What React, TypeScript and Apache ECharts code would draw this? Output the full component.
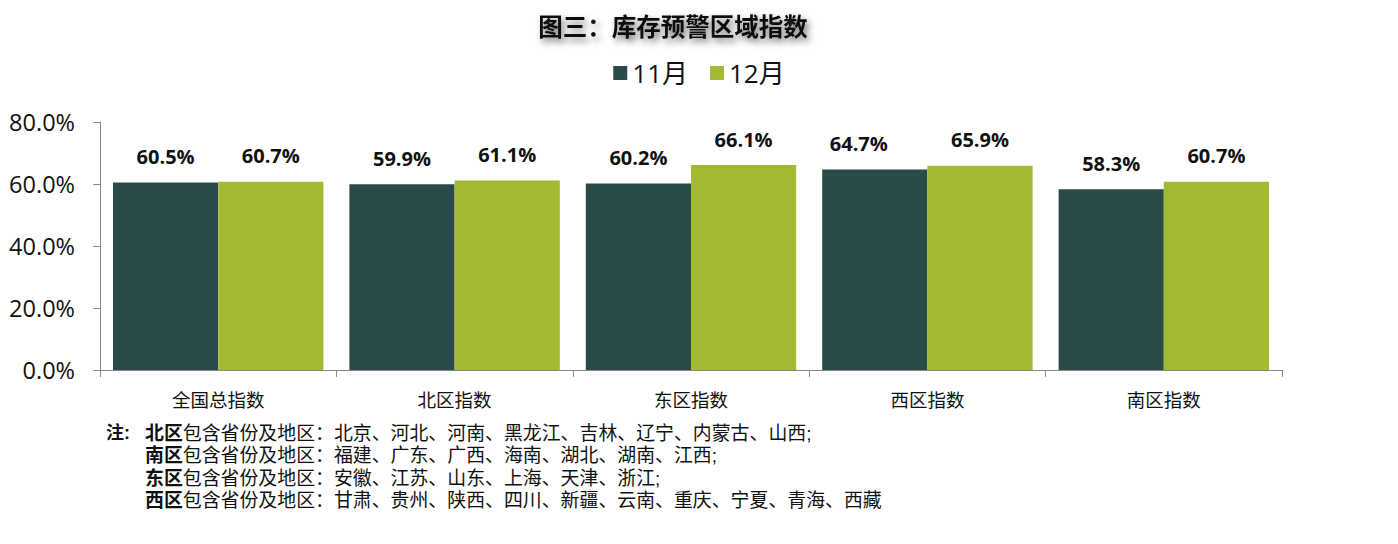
import React, { useEffect, useRef } from "react";
import * as echarts from "echarts";

const categories = ["全国总指数", "北区指数", "东区指数", "西区指数", "南区指数"];
const nov = [60.5, 59.9, 60.2, 64.7, 58.3];
const dec = [60.7, 61.1, 66.1, 65.9, 60.7];
const seriesNames = ["11月", "12月"];
const yTicks = { min: 0, max: 80, interval: 20 };
const noteRegions = ["北区", "南区", "东区", "西区"];
const noteLists = [
  "北京、河北、河南、黑龙江、吉林、辽宁、内蒙古、山西;",
  "福建、广东、广西、海南、湖北、湖南、江西;",
  "安徽、江苏、山东、上海、天津、浙江;",
  "甘肃、贵州、陕西、四川、新疆、云南、重庆、宁夏、青海、西藏",
];

const FONT = "'Open Sans', 'Noto Sans CJK SC', sans-serif";
const CJK = "'Noto Sans CJK SC', sans-serif";
const NOTE = "'Liberation Sans', 'Noto Sans CJK SC', sans-serif";
const DARK = "#2A4A4A";
const GREEN = "#A3B933";

export default function App() {
  const ref = useRef<HTMLDivElement>(null);
  useEffect(() => {
    document.body.style.margin = "0";
    const chart = echarts.init(ref.current!, null, { renderer: "svg" });
    const label = {
      show: true,
      position: "top",
      distance: 16,
      fontFamily: FONT,
      fontWeight: "bold",
      fontSize: 20,
      color: "#111",
      formatter: (p: any) => `${p.value.toFixed(1)}%`,
    };
    const noteGraphics: any[] = [
      {
        type: "text",
        left: 106,
        top: 424,
        style: { text: "注:", font: `bold 18px ${NOTE}`, fill: "#111" },
      },
    ];
    noteRegions.forEach((r, i) => {
      noteGraphics.push({
        type: "text",
        left: 145,
        top: 424 + i * 22.4,
        style: {
          text: `{b|${r}}{n|包含省份及地区：${noteLists[i]}}`,
          rich: {
            b: { fontFamily: NOTE, fontWeight: "bold", fontSize: 18.9, lineHeight: 20, fill: "#111", color: "#111" },
            n: { fontFamily: NOTE, fontSize: 18.9, lineHeight: 20, fill: "#111", color: "#111" },
          },
        },
      });
    });
    chart.setOption({
      animation: false,
      textStyle: { fontFamily: FONT },
      title: {
        text: "图三：库存预警区域指数",
        left: 668,
        textAlign: "center",
        top: 8,
        textStyle: {
          fontFamily: CJK,
          fontWeight: "bold",
          fontSize: 24.5,
          color: "#111",
          textShadowColor: "rgba(0,0,0,0.55)",
          textShadowBlur: 7,
          textShadowOffsetX: 3,
          textShadowOffsetY: 4,
        },
      },
      legend: {
        top: 55,
        left: "center",
        itemWidth: 14,
        itemHeight: 14,
        itemGap: 22,
        icon: "rect",
        textStyle: { fontFamily: FONT, fontSize: 26, color: "#111" },
        data: seriesNames,
      },
      grid: { left: 100, right: 116, top: 122, bottom: 174 },
      xAxis: {
        type: "category",
        data: categories,
        axisLine: { lineStyle: { color: "#898989", width: 1 } },
        axisTick: { show: true, length: 7, lineStyle: { color: "#898989" } },
        axisLabel: { fontFamily: CJK, fontSize: 18.5, color: "#111", margin: 20 },
      },
      yAxis: {
        type: "value",
        min: yTicks.min,
        max: yTicks.max,
        interval: yTicks.interval,
        axisLine: { show: true, lineStyle: { color: "#898989", width: 1 } },
        axisTick: { show: true, length: 7, lineStyle: { color: "#898989" } },
        splitLine: { show: false },
        axisLabel: {
          fontFamily: FONT,
          fontSize: 23.5,
          color: "#111",
          margin: 25,
          formatter: (v: number) => `${v.toFixed(1)}%`,
        },
      },
      series: [
        {
          name: seriesNames[0],
          type: "bar",
          data: nov.map((v, i) =>
            i === 3 ? { value: v, label: { offset: [-16, 0] } } : v
          ),
          itemStyle: { color: DARK },
          barGap: "0%",
          barCategoryGap: "11%",
          label,
        },
        {
          name: seriesNames[1],
          type: "bar",
          data: dec,
          itemStyle: { color: GREEN },
          barGap: "0%",
          barCategoryGap: "11%",
          label,
        },
      ],
      graphic: noteGraphics,
    });
    return () => chart.dispose();
  }, []);
  return <div ref={ref} style={{ width: 1398, height: 544 }} />;
}
